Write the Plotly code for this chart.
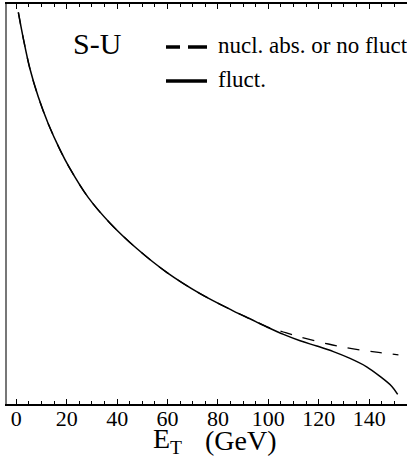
import plotly.graph_objects as go

# Shared part of both curves (E_T in GeV, arbitrary y units)
E_common = [0.8, 2.8, 5.4, 8.7, 12.7, 17.3, 21.0, 28.5, 37.2, 47.9, 59.8, 72.9, 86.0, 92.7, 95.0]
Y_common = [97.9, 91.3, 83.8, 76.8, 70.0, 63.6, 59.15, 51.65, 45.2, 38.8, 32.85, 27.6, 23.3, 21.3, 20.6]

# Tail of "fluct." curve
E_fluct_tail = [100.3, 106.0, 112.6, 119.2, 125.8, 132.4, 139.0, 144.3, 149.0, 151.3]
Y_fluct_tail = [19.0, 17.4, 15.8, 14.5, 13.1, 11.4, 9.3, 6.9, 4.4, 2.4]

# Tail of "nucl. abs. or no fluct" curve
E_nofluct_tail = [100.3, 105.9, 112.6, 123.8, 133.7, 143.7, 151.6]
Y_nofluct_tail = [19.1, 18.0, 16.75, 15.0, 13.8, 12.9, 12.3]

x_ticks = [0, 20, 40, 60, 80, 100, 120, 140]
x_tick_labels = [str(v) for v in x_ticks]

FONT = "Liberation Serif"

fig = go.Figure()
fig.add_trace(go.Scatter(
    x=E_common + E_nofluct_tail, y=Y_common + Y_nofluct_tail, mode="lines",
    line=dict(color="black", width=1.3, dash="12px,11px", shape="spline", smoothing=1.0),
    showlegend=False, hoverinfo="skip"))
fig.add_trace(go.Scatter(
    x=E_common + E_fluct_tail, y=Y_common + Y_fluct_tail, mode="lines",
    line=dict(color="black", width=1.5, shape="spline", smoothing=1.0),
    showlegend=False, hoverinfo="skip"))

# legend samples (paper coords)
def px_x(p):
    return (p - 7) / 400.0

def px_y(p):
    return (404 - p) / 400.0

shapes = [
    dict(type="line", xref="paper", yref="paper", x0=px_x(166), x1=px_x(180), y0=px_y(47), y1=px_y(47),
         line=dict(color="black", width=3.5)),
    dict(type="line", xref="paper", yref="paper", x0=px_x(188), x1=px_x(207), y0=px_y(47), y1=px_y(47),
         line=dict(color="black", width=3.5)),
    dict(type="line", xref="paper", yref="paper", x0=px_x(166), x1=px_x(207), y0=px_y(81), y1=px_y(81),
         line=dict(color="black", width=3.5)),
]

annotations = [
    dict(text="S-U", xref="paper", yref="paper", x=px_x(71), y=px_y(44), xanchor="left", yanchor="middle",
         showarrow=False, font=dict(family=FONT, size=30, color="black")),
    dict(text="nucl. abs. or no fluct", xref="paper", yref="paper", x=px_x(216), y=px_y(46), xanchor="left",
         yanchor="middle", showarrow=False, font=dict(family=FONT, size=23, color="black")),
    dict(text="fluct.", xref="paper", yref="paper", x=px_x(216), y=px_y(79), xanchor="left",
         yanchor="middle", showarrow=False, font=dict(family=FONT, size=23, color="black")),
    dict(text="E<sub>T</sub>", xref="paper", yref="paper", x=px_x(151), y=px_y(440), xanchor="left",
         yanchor="middle", showarrow=False, font=dict(family=FONT, size=28, color="black")),
    dict(text="(GeV)", xref="paper", yref="paper", x=px_x(203), y=px_y(440), xanchor="left",
         yanchor="middle", showarrow=False, font=dict(family=FONT, size=28, color="black")),
]

fig.update_layout(
    width=407, height=459,
    font=dict(family=FONT, color="black"),
    margin=dict(l=7, r=0, t=4, b=55),
    paper_bgcolor="white", plot_bgcolor="white",
    showlegend=False,
    shapes=shapes, annotations=annotations,
    xaxis=dict(range=[-3.7, 155.0], tickvals=x_ticks, ticktext=x_tick_labels,
               ticks="inside", ticklen=5, tickwidth=1, tickcolor="black",
               minor=dict(dtick=5, tick0=0, ticks="inside", ticklen=3, tickwidth=1, tickcolor="black"),
               showline=True, linecolor="black", linewidth=1.5, mirror="ticks",
               showgrid=False, zeroline=False, ticklabelstandoff=-6,
               tickfont=dict(family=FONT, size=22, color="black")),
    yaxis=dict(range=[0, 100], showticklabels=False, ticks="", showline=True,
               linecolor="#777777", linewidth=2, mirror=False, showgrid=False, zeroline=False),
)

post = (
    "document.body.style.margin='0px';"
    "document.body.style.overflow='hidden';"
    "var st=document.createElement('style');"
    "st.textContent=\".main-svg text, .main-svg tspan {font-family: 'Liberation Serif', 'Times New Roman', serif !important;}\";"
    "document.head.appendChild(st);"
)

fig.write_html("out.html", config={"displayModeBar": False}, post_script=post)
